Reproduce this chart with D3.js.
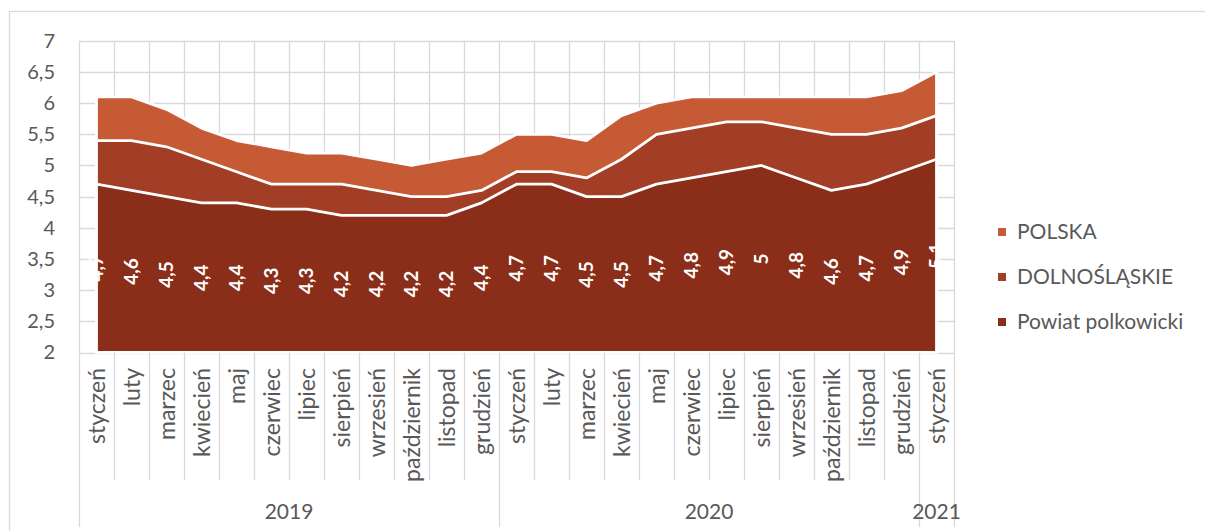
<!DOCTYPE html>
<html><head><meta charset="utf-8">
<script src="https://cdn.jsdelivr.net/npm/d3@7"></script>
<style>
html,body{margin:0;padding:0;background:#fff;}
svg{display:block;font-family:Lato,"Open Sans",sans-serif;}
</style></head>
<body>
<svg id="chart" width="1205" height="531"></svg>
<script>
const categories = ["styczeń","luty","marzec","kwiecień","maj","czerwiec","lipiec","sierpień","wrzesień","październik","listopad","grudzień",
  "styczeń","luty","marzec","kwiecień","maj","czerwiec","lipiec","sierpień","wrzesień","październik","listopad","grudzień",
  "styczeń"];
const years = ["2019","2020","2021"];
const yearCounts = [12,12,1];
const polska = [6.1,6.1,5.9,5.6,5.4,5.3,5.2,5.2,5.1,5.0,5.1,5.2, 5.5,5.5,5.4,5.8,6.0,6.1,6.1,6.1,6.1,6.1,6.1,6.2, 6.5];
const dolnoslaskie = [5.4,5.4,5.3,5.1,4.9,4.7,4.7,4.7,4.6,4.5,4.5,4.6, 4.9,4.9,4.8,5.1,5.5,5.6,5.7,5.7,5.6,5.5,5.5,5.6, 5.8];
const powiat = [4.7,4.6,4.5,4.4,4.4,4.3,4.3,4.2,4.2,4.2,4.2,4.4, 4.7,4.7,4.5,4.5,4.7,4.8,4.9,5.0,4.8,4.6,4.7,4.9, 5.1];
const yTicks = [2,2.5,3,3.5,4,4.5,5,5.5,6,6.5,7];
const seriesNames = ["POLSKA","DOLNOŚLĄSKIE","Powiat polkowicki"];
const colors = ["#C55A35","#A33E26","#8A2D19"];

const svg = d3.select("#chart");
const grid = "#d9d9d9", txt = "#595959";
const L = 79, R = 954, T = 40.8, B = 352.5;
const fmt = v => String(v).replace(".", ",");

// outer frame
svg.append("rect").attr("x",9.5).attr("y",11.5).attr("width",1210).attr("height",540)
  .attr("fill","#fff").attr("stroke",grid).attr("stroke-width",1.3);

const idx = categories.map((c,i)=>i);
const x = d3.scaleBand().domain(idx).range([L,R]).paddingInner(0).paddingOuter(0);
const y = d3.scaleLinear().domain([2,7]).range([B,T]);
const cx = i => x(i) + x.bandwidth()/2;

// gridlines
const g = svg.append("g");
g.selectAll("line.h").data(yTicks).join("line")
  .attr("x1",L).attr("x2",R).attr("y1",d=>Math.round(y(d))+0.5).attr("y2",d=>Math.round(y(d))+0.5)
  .attr("stroke",grid).attr("stroke-width",1.3);
const bounds = idx.map(i=>x(i)).concat([R]);
g.selectAll("line.v").data(bounds).join("line")
  .attr("x1",d=>Math.round(d)+0.5).attr("x2",d=>Math.round(d)+0.5)
  .attr("y1",T).attr("y2",B)
  .attr("stroke",grid).attr("stroke-width",1.3);

// areas
const series = [polska, dolnoslaskie, powiat];
series.forEach((vals,si)=>{
  const area = d3.area().x((d,i)=>cx(i)).y0(y(2)).y1(d=>y(d));
  svg.append("path").datum(vals).attr("d",area)
    .attr("fill",colors[si]).attr("stroke","#fff").attr("stroke-width",2.8).attr("stroke-linejoin","round");
});

// data labels (Powiat)
svg.append("g").selectAll("text").data(powiat).join("text")
  .attr("transform",(d,i)=>`translate(${cx(i)},${y((2+d)/2)}) rotate(-90)`)
  .attr("text-anchor","middle").attr("dy","0.35em")
  .attr("fill","#fff").attr("font-weight","bold").attr("font-size",19)
  .text(d=>fmt(d));

// y axis
const yAxis = svg.append("g").attr("transform",`translate(${L},0)`)
  .call(d3.axisLeft(y).tickValues(yTicks).tickSize(0).tickPadding(24).tickFormat(fmt));
yAxis.select(".domain").remove();
yAxis.selectAll("text").attr("fill",txt).attr("font-size",20).attr("font-family","Lato");

// x axis (months)
const xAxis = svg.append("g").attr("transform",`translate(0,${B})`)
  .call(d3.axisBottom(x).tickSize(0).tickFormat(i=>categories[i]));
xAxis.select(".domain").remove();
xAxis.selectAll("text")
  .attr("transform","translate(0,15.5) rotate(-90)")
  .attr("x",0).attr("y",0).attr("dy","0.35em")
  .attr("text-anchor","end")
  .attr("fill",txt).attr("font-size",23).attr("font-family","Lato");

// category separators below axis
const yearBounds = [0];
yearCounts.forEach((c,k)=>yearBounds.push(yearBounds[k]+c));
const yearX = yearBounds.map(b => b < categories.length ? x(b) : R);
svg.append("g").selectAll("line").data(bounds).join("line")
  .attr("x1",d=>Math.round(d)+0.5).attr("x2",d=>Math.round(d)+0.5)
  .attr("y1",B).attr("y2",d=> yearX.some(v=>Math.abs(v-d)<0.5) ? 527 : 480)
  .attr("stroke",grid).attr("stroke-width",1.3);

// year labels
svg.append("g").selectAll("text").data(years).join("text")
  .attr("x",(d,k)=>(yearX[k]+yearX[k+1])/2).attr("y",512).attr("dy","0.35em")
  .attr("text-anchor","middle").attr("fill",txt).attr("font-size",21).attr("font-family","Lato")
  .text(d=>d);

// legend
const leg = svg.append("g");
const legY = [232,277,322];
seriesNames.forEach((n,k)=>{
  leg.append("rect").attr("x",998).attr("y",legY[k]-4).attr("width",8).attr("height",8).attr("fill",colors[k]);
  leg.append("text").attr("x",1017).attr("y",legY[k]).attr("dy","0.35em")
    .attr("fill",txt).attr("font-size",21).attr("font-family","Lato").text(n);
});
</script>
</body></html>
